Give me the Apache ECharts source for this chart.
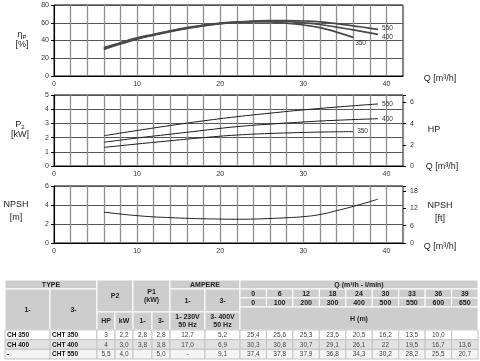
<!DOCTYPE html>
<html><head><meta charset="utf-8">
<script src="https://cdn.jsdelivr.net/npm/echarts@6/dist/echarts.min.js"></script>
<style>html,body{margin:0;padding:0;background:#fff}#c{width:480px;height:361px}</style>
</head><body><div id="c"></div>
<script>
// ---- curve data (Q in m3/h) ----
const qEff350 = [6,8,10,12,14,16,18,20,22,24,26,28,30,32,34,36];
const eff350  = [31,37,42,46.5,50.5,54,57,59,60.5,61,61,59.5,57.5,54.5,49.5,43.5];
const qEff400 = [6,8,10,12,14,16,18,20,22,24,26,28,30,32,34,36,38,39];
const eff400  = [30,36,41.5,46,50,53.5,56.5,59,60.5,61.5,62,61.5,60,58,55,52,48.5,47];
const qEff550 = [6,8,10,12,14,16,18,20,22,24,26,28,30,32,34,36,38,39];
const eff550  = [32,37.5,43,47,51,54.5,57.5,59.5,61,62,62.5,62.5,62,61,59,56.5,54,52.5];

const qP350 = [6,10,14,18,22,26,30,33,36];
const p350  = [1.31,1.55,1.78,2.0,2.18,2.29,2.36,2.4,2.42];
const qP400 = [6,10,14,18,22,26,30,34,39];
const p400  = [1.67,1.97,2.24,2.51,2.77,2.95,3.1,3.22,3.33];
const qP550 = [6,10,14,18,22,26,30,34,39];
const p550  = [2.13,2.5,2.85,3.18,3.47,3.72,3.95,4.15,4.37];

const qNpsh = [6,8,10,12,14,16,18,20,22,24,26,28,30,32,34,36,38,39];
const npsh  = [3.25,3.05,2.88,2.75,2.67,2.6,2.55,2.52,2.5,2.52,2.58,2.66,2.77,3.0,3.4,3.85,4.35,4.63];

// ---- table data ----
const types1 = ['CH 350','CH 400','-'];
const types3 = ['CHT 350','CHT 400','CHT 550'];
const p2hp = ['3','4','5,5'];
const p2kw = ['2,2','3,0','4,0'];
const p1mono = ['2,8','3,8',''];
const p1tri = ['2,8','3,8','5,0'];
const amp1 = ['12,7','17,0','-'];
const amp3 = ['5,2','6,9','9,1'];
const qM3h = ['0','6','12','18','24','30','33','36','39'];
const qLmin = ['0','100','200','300','400','500','550','600','650'];
const head350 = ['25,4','25,6','25,3','23,5','20,5','16,2','13,5','10,0',''];
const head400 = ['30,3','30,8','30,7','29,1','26,1','22','19,5','16,7','13,6'];
const head550 = ['37,4','37,8','37,9','36,8','34,3','30,2','28,2','25,5','20,7'];

const FONT = 'Liberation Sans, Arial, sans-serif';
const pairs = (xs, ys) => xs.map((x, i) => [x, ys[i]]);

const chart = echarts.init(document.getElementById('c'), null, {renderer: 'canvas'});

const gridBase = {left: 54, width: 349, show: true, borderColor: '#000', borderWidth: 1, containLabel: false};
const grids = [
  Object.assign({top: 5, height: 71}, gridBase),
  Object.assign({top: 95, height: 71}, gridBase),
  Object.assign({top: 186, height: 57}, gridBase)
];
const xAxes = [0,1,2].map(i => ({
  type: 'value', gridIndex: i, min: 0, max: 42, interval: 2,
  axisLine: {show: true, lineStyle: {color: '#000'}},
  axisTick: {show: false},
  splitLine: {show: true, lineStyle: {color: '#8f8f8f', width: 1.3}},
  axisLabel: {fontSize: 7, color: '#333', margin: 5, fontFamily: FONT,
    formatter: v => (v % 10 === 0 ? String(v) : '')}
}));
const leftY = (i, max, interval) => ({
  type: 'value', gridIndex: i, min: 0, max: max, interval: interval, position: 'left',
  axisLine: {show: true, lineStyle: {color: '#000'}},
  axisTick: {show: true, length: 3, lineStyle: {color: '#000'}},
  splitLine: {show: true, lineStyle: {color: '#555', width: 1}},
  axisLabel: {fontSize: 7, color: '#333', margin: 5, fontFamily: FONT}
});
const rightY = (i, max, interval) => ({
  type: 'value', gridIndex: i, min: 0, max: max, interval: interval, position: 'right',
  axisLine: {show: false},
  axisTick: {show: true, length: 3, lineStyle: {color: '#000'}},
  splitLine: {show: false},
  axisLabel: {fontSize: 7, color: '#333', margin: 7, fontFamily: FONT,
    formatter: v => (Math.abs(v - Math.round(v)) < 1e-9 && Math.round(v) % interval === 0 ? String(Math.round(v)) : '')}
});
const yAxes = [
  leftY(0, 80, 20),
  leftY(1, 5, 1),
  rightY(1, 5 / 0.7457, 2),
  leftY(2, 6, 2),
  rightY(2, 6 / 0.3048, 6)
];

const lbl = (txt, offset) => ({show: true, formatter: txt, fontSize: 6.5, color: '#333', fontFamily: FONT, distance: 4, offset: offset});
const effLine = (name, data, off) => ({
  type: 'line', name: name, xAxisIndex: 0, yAxisIndex: 0, data: data, smooth: true, showSymbol: false,
  lineStyle: {color: '#4a4a4a', width: 1.7}, endLabel: lbl(name, off), animation: false, z: 3
});
const thinLine = (name, xi, yi, data, showLbl, off) => ({
  type: 'line', name: name, xAxisIndex: xi, yAxisIndex: yi, data: data, smooth: true, showSymbol: false,
  lineStyle: {color: '#1a1a1a', width: 1}, endLabel: showLbl ? lbl(name, off) : {show: false}, animation: false, z: 3
});

const series = [
  effLine('350', pairs(qEff350, eff350), [-2, 6]),
  effLine('400', pairs(qEff400, eff400), [0, 3]),
  effLine('550', pairs(qEff550, eff550), [0, -1]),
  thinLine('350', 1, 1, pairs(qP350, p350), true, [0, 0]),
  thinLine('400', 1, 1, pairs(qP400, p400), true, [0, 0]),
  thinLine('550', 1, 1, pairs(qP550, p550), true, [0, 0]),
  thinLine('npsh', 2, 3, pairs(qNpsh, npsh), false)
];

// ---- side titles ----
const titleStyle = {fontSize: 9, fill: '#222', fontFamily: FONT};
const T = (x, y, text, extra) => ({type: 'text', x: x, y: y, silent: true,
  style: Object.assign({text: text, align: 'center', verticalAlign: 'middle'}, titleStyle, extra || {})});
const graphics = [
  T(22, 35, '{a|η}{s|P}', {rich: {a: {fontSize: 9, fontFamily: FONT, fill: '#222'}, s: {fontSize: 6, fontFamily: FONT, fill: '#222', padding: [5, 0, 0, 0]}}}),
  T(22, 45, '[%]'),
  T(20, 125, '{a|P}{s|2}', {rich: {a: {fontSize: 9, fontFamily: FONT, fill: '#222'}, s: {fontSize: 6, fontFamily: FONT, fill: '#222', padding: [5, 0, 0, 0]}}}),
  T(20, 135, '[kW]'),
  T(16, 205, 'NPSH'),
  T(16, 218, '[m]'),
  T(440, 79, 'Q [m³/h]'),
  T(442, 167, 'Q [m³/h]'),
  T(440, 247, 'Q [m³/h]'),
  T(434, 130, 'HP'),
  T(440, 206, 'NPSH'),
  T(440, 219, '[ft]')
];

// ---- table ----
const colX = [5, 50, 97, 115, 133, 152, 170, 205, 240];
const qColW = 238 / 9;
for (let i = 1; i <= 9; i++) colX.push(240 + i * qColW);
const HDR = '#cdcdcd';
function cell(c0, c1, y0, y1, text, o) {
  o = o || {};
  const x0 = colX[c0], x1 = colX[c1];
  graphics.push({type: 'rect', silent: true, shape: {x: x0, y: y0, width: x1 - x0, height: y1 - y0},
    style: {fill: o.fill || HDR, stroke: o.stroke || '#fff', lineWidth: 1}});
  if (text !== '') {
    const left = o.align === 'left';
    graphics.push({type: 'text', silent: true, x: left ? x0 + 2 : (x0 + x1) / 2, y: (y0 + y1) / 2 + 0.5,
      style: {text: text, align: left ? 'left' : 'center', verticalAlign: 'middle',
        fontSize: o.size || 7, fontWeight: o.bold === false ? 'normal' : 'bold', fontFamily: FONT,
        fill: o.color || '#222', lineHeight: 8}});
  }
}
// left header
cell(0, 2, 280, 289, 'TYPE');
cell(0, 1, 289, 330, '1-');
cell(1, 2, 289, 330, '3-');
cell(2, 4, 280, 312, 'P2');
cell(4, 6, 280, 312, 'P1\n(kW)');
cell(6, 8, 280, 289, 'AMPERE');
cell(6, 7, 289, 312, '1-');
cell(7, 8, 289, 312, '3-');
cell(2, 3, 312, 330, 'HP');
cell(3, 4, 312, 330, 'kW');
cell(4, 5, 312, 330, '1-');
cell(5, 6, 312, 330, '3-');
cell(6, 7, 312, 330, '1- 230V\n50 Hz');
cell(7, 8, 312, 330, '3- 400V\n50 Hz');
// right header
cell(8, 17, 280, 289, 'Q (m³/h - l/min)');
for (let i = 0; i < 9; i++) {
  cell(8 + i, 9 + i, 289, 298, qM3h[i]);
  cell(8 + i, 9 + i, 298, 307, qLmin[i]);
}
cell(8, 17, 307, 330, 'H (m)');
// data rows
const rowY = [330, 339.7, 349.3, 359];
const heads = [head350, head400, head550];
const rowFill = ['#ffffff', '#e2e2e2', '#f4f4f4'];
for (let r = 0; r < 3; r++) {
  const y0 = rowY[r], y1 = rowY[r + 1];
  const o = {fill: rowFill[r], stroke: '#c4c4c4', bold: false, size: 6.5, color: '#444'};
  cell(0, 1, y0, y1, types1[r], Object.assign({}, o, {align: 'left', bold: true, color: '#111'}));
  cell(1, 2, y0, y1, types3[r], Object.assign({}, o, {align: 'left', bold: true, color: '#111'}));
  const vals = [p2hp[r], p2kw[r], p1mono[r], p1tri[r], amp1[r], amp3[r]].concat(heads[r]);
  vals.forEach((v, i) => cell(2 + i, 3 + i, y0, y1, v, o));
}

chart.setOption({
  animation: false,
  textStyle: {fontFamily: FONT},
  grid: grids,
  xAxis: xAxes,
  yAxis: yAxes,
  series: series,
  graphic: graphics
});
</script></body></html>
